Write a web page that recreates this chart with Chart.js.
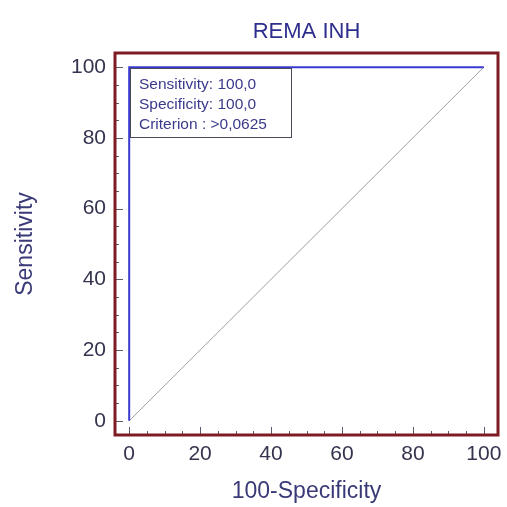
<!DOCTYPE html>
<html>
<head>
<meta charset="utf-8">
<script src="https://cdn.jsdelivr.net/npm/chart.js@4.4.1/dist/chart.umd.min.js"></script>
<style>
  html, body { margin: 0; padding: 0; background: #fff; }
  #wrap { width: 507px; height: 507px; }
</style>
</head>
<body>
<div id="wrap"><canvas id="roc"></canvas></div>
<script>
// ROC curve points (100-Specificity, Sensitivity)
const rocX = [0, 0, 100];
const rocY = [0, 100, 100];
// reference diagonal
const diagX = [0, 100];
const diagY = [0, 100];
const tickValues = [0, 20, 40, 60, 80, 100];
const minorStep = 5;
const infoLines = ['Sensitivity: 100,0', 'Specificity: 100,0', 'Criterion : >0,0625'];
const chartTitle = 'REMA INH';
const xTitle = '100-Specificity';
const yTitle = 'Sensitivity';

const toPoints = (xs, ys) => xs.map((x, i) => ({ x: x, y: ys[i] }));
const fontFam = '"Liberation Sans", Arial, sans-serif';

// frame, inward tick marks and the info box
const framePlugin = {
    id: 'frame',
    afterDatasetsDraw(chart) {
        const ctx = chart.ctx;
        const a = chart.chartArea;
        const xs = chart.scales.x;
        const ys = chart.scales.y;
        ctx.save();
        // tick marks
        ctx.strokeStyle = '#5a5a6a';
        ctx.lineWidth = 1;
        for (let v = 0; v <= 100; v += minorStep) {
            const len = v % 20 === 0 ? 8 : 4;
            const px = Math.round(xs.getPixelForValue(v)) + 0.5;
            ctx.beginPath();
            ctx.moveTo(px, a.bottom);
            ctx.lineTo(px, a.bottom - len);
            ctx.stroke();
            const py = Math.round(ys.getPixelForValue(v)) + 0.5;
            ctx.beginPath();
            ctx.moveTo(a.left, py);
            ctx.lineTo(a.left + len, py);
            ctx.stroke();
        }
        // info box
        const bx = Math.round(xs.getPixelForValue(0)) + 1;
        const by = Math.round(ys.getPixelForValue(100)) + 1;
        ctx.fillStyle = '#ffffff';
        ctx.fillRect(bx, by, 161, 69);
        ctx.strokeStyle = '#4a4a5a';
        ctx.strokeRect(bx + 0.5, by + 0.5, 161, 69);
        ctx.fillStyle = '#3a3a8c';
        ctx.font = '15.5px ' + fontFam;
        ctx.textBaseline = 'middle';
        infoLines.forEach((t, i) => {
            ctx.fillText(t, bx + 9, by + 17 + i * 20);
        });
        // frame
        ctx.strokeStyle = '#7e1c24';
        ctx.lineWidth = 3;
        ctx.strokeRect(a.left, a.top, a.right - a.left, a.bottom - a.top);
        ctx.restore();
    }
};

new Chart(document.getElementById('roc'), {
    type: 'scatter',
    data: {
        datasets: [
            {
                label: 'ROC',
                data: toPoints(rocX, rocY),
                showLine: true,
                borderColor: '#3a3ad0',
                borderWidth: 2,
                pointRadius: 0,
                fill: false,
                order: 1
            },
            {
                label: 'Diagonal',
                data: toPoints(diagX, diagY),
                showLine: true,
                borderColor: '#a0a0a8',
                borderWidth: 1,
                pointRadius: 0,
                fill: false,
                order: 2
            }
        ]
    },
    options: {
        responsive: true,
        maintainAspectRatio: false,
        animation: false,
        layout: { padding: { top: 0, right: 9, bottom: 0, left: 0 } },
        plugins: {
            legend: { display: false },
            tooltip: { enabled: false },
            title: {
                display: true,
                fullSize: false,
                text: chartTitle,
                color: '#2e2e8e',
                font: { family: fontFam, size: 22, weight: 'normal' },
                padding: { top: 19, bottom: 7.6 }
            }
        },
        scales: {
            x: {
                type: 'linear',
                min: -4,
                max: 104,
                afterBuildTicks: (s) => { s.ticks = tickValues.map(v => ({ value: v })); },
                afterFit: (s) => { s.height = 72; s.paddingLeft = 0; s.paddingRight = 0; },
                grid: { display: false, drawTicks: false },
                border: { display: false },
                ticks: {
                    color: '#34344f',
                    padding: 7,
                    font: { family: fontFam, size: 21 }
                },
                title: {
                    display: true,
                    text: xTitle,
                    color: '#3a3a78',
                    font: { family: fontFam, size: 23 },
                    padding: { top: 0, bottom: 2 }
                }
            },
            y: {
                type: 'linear',
                min: -4,
                max: 104,
                afterBuildTicks: (s) => { s.ticks = tickValues.map(v => ({ value: v })); },
                afterFit: (s) => { s.width = 115; },
                grid: { display: false, drawTicks: false },
                border: { display: false },
                ticks: {
                    color: '#34344f',
                    padding: 9,
                    font: { family: fontFam, size: 21 }
                },
                title: {
                    display: true,
                    text: yTitle,
                    color: '#3a3a78',
                    font: { family: fontFam, size: 23 },
                    padding: { top: 12, bottom: 0 }
                }
            }
        }
    },
    plugins: [framePlugin]
});
</script>
</body>
</html>
